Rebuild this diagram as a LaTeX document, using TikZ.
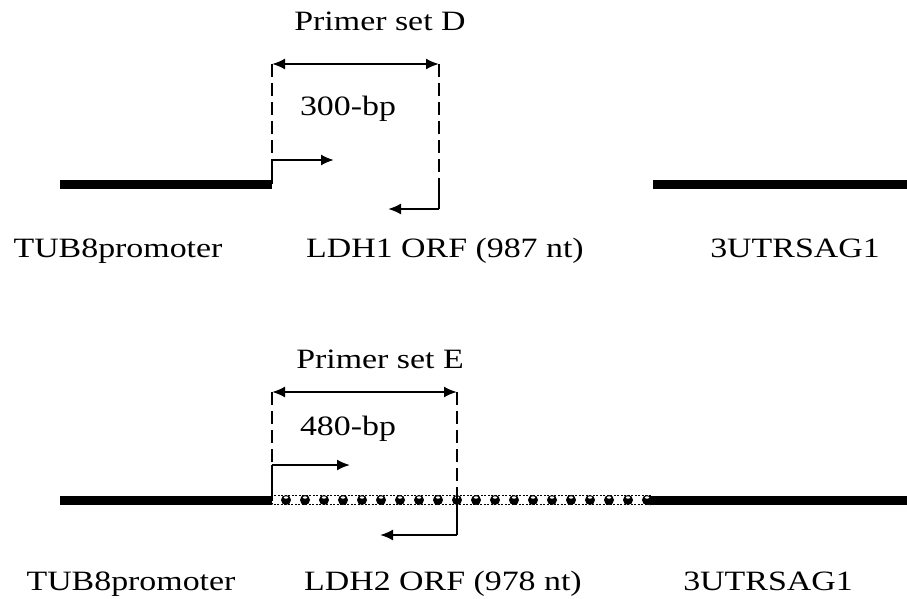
\documentclass[tikz,border=0pt]{standalone}
\usepackage{fontspec}
\setmainfont[FakeStretch=1.21]{Liberation Serif}
\usetikzlibrary{arrows.meta}
\begin{document}
\begin{tikzpicture}[x=1pt,y=-1pt,
  lbl/.style={font=\fontsize{28}{32}\selectfont, anchor=base, inner sep=0pt},
  bar/.style={line width=9pt},
  thinln/.style={line width=2pt},
  dsh/.style={line width=2pt, dash pattern=on 13pt off 6pt},
  arr/.style={-{Latex[length=13pt,width=11pt]}, line width=2pt},
  darr/.style={{Latex[length=13pt,width=11pt]}-{Latex[length=13pt,width=11pt]}, line width=2pt}]
\useasboundingbox[fill=white] (0,0) rectangle (907,599);

% ---------------- top construct ----------------
\coordinate (p1s) at (60,184);  \coordinate (p1e) at (272,184);
\coordinate (u1s) at (653,184); \coordinate (u1e) at (907,184);
\draw[bar] (p1s) -- (p1e);
\draw[bar] (u1s) -- (u1e);
\coordinate (dL1) at (272,64);  \coordinate (dR1) at (439,64);
\coordinate (fD1) at (272,160); \coordinate (fT1) at (334,160);
\coordinate (rS1) at (439,184); \coordinate (rD1) at (439,209); \coordinate (rT1) at (388,209);
\draw[darr] (dL1) -- (dR1);
\draw[dsh] (dL1) -- (fD1);
\draw[thinln] (p1e) -- (fD1);
\draw[arr] (fD1) -- (fT1);
\draw[dsh] (dR1) -- (rS1);
\draw[thinln] (rS1) -- (rD1);
\draw[arr] (rD1) -- (rT1);

\node[lbl] (psD) at (380,31) {Primer set D};
\node[lbl] (bp1) at (348,116) {300-bp};
\node[lbl] (tub1) at (118,257) {TUB8promoter};
\node[lbl] (ldh1) at (445,257) {LDH1 ORF (987 nt)};
\node[lbl] (utr1) at (795,257) {3UTRSAG1};

% ---------------- bottom construct ----------------
\coordinate (p2s) at (60,500);  \coordinate (p2e) at (272,500);
\coordinate (c2e) at (650,500);
\coordinate (u2e) at (907,500);
\draw[bar] (p2s) -- (p2e);
\draw[line width=1.5pt, dash pattern=on 2pt off 1.5pt] (272,495.5) rectangle (650,504.5);
\foreach \i in {0,...,19} {
  \fill (286+\i*19,500) circle (5);
  \fill[white] (286+\i*19,497.5) ellipse (2.2 and 1.2);
}
\draw[bar] (c2e) -- (u2e);

\coordinate (dL2) at (272,392); \coordinate (dR2) at (457,392);
\coordinate (fD2) at (272,465); \coordinate (fT2) at (350,465);
\coordinate (rS2) at (457,500); \coordinate (rD2) at (457,535); \coordinate (rT2) at (380,535);
\draw[darr] (dL2) -- (dR2);
\draw[dsh] (dL2) -- (fD2);
\draw[thinln] (p2e) -- (fD2);
\draw[arr] (fD2) -- (fT2);
\draw[dsh] (dR2) -- (rS2);
\draw[thinln] (rS2) -- (rD2);
\draw[arr] (rD2) -- (rT2);

\node[lbl] (psE) at (380,368) {Primer set E};
\node[lbl] (bp2) at (348,435) {480-bp};
\node[lbl] (tub2) at (131,590) {TUB8promoter};
\node[lbl] (ldh2) at (443,590) {LDH2 ORF (978 nt)};
\node[lbl] (utr2) at (768,590) {3UTRSAG1};
\end{tikzpicture}
\end{document}
